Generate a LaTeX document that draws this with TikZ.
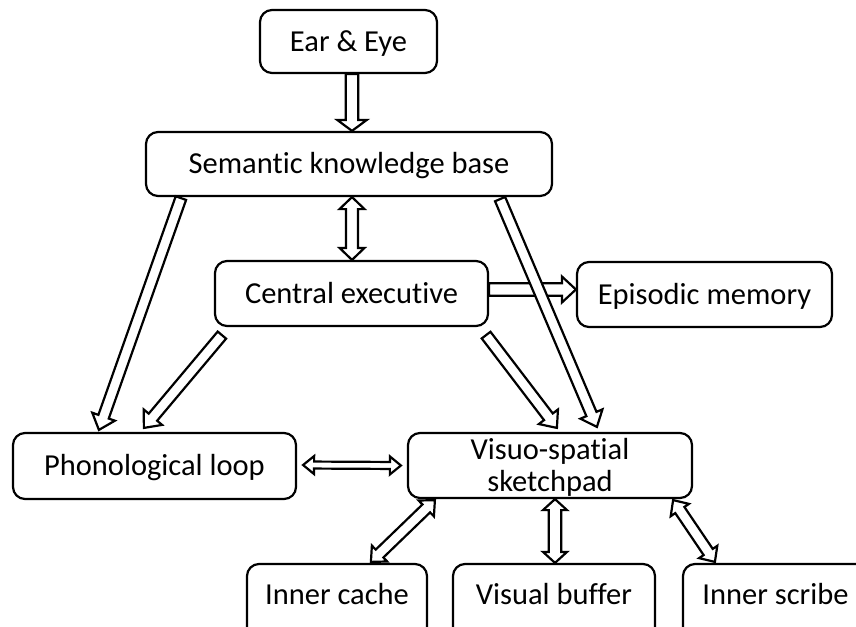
\documentclass[tikz,border=0pt]{standalone}
\usepackage{fontspec}
\setmainfont{Carlito}[RawFeature={-liga}]
\usetikzlibrary{calc}

% hollow block arrow with one head: #1 start, #2 tip, #3 shaft half width,
% #4 head half width, #5 head length
\newcommand\blockone[5]{%
  \coordinate (hb) at ($(#2)!#5!(#1)$);
  \draw[blk] ($(#1)!#3!90:(#2)$) -- ($(hb)!#3!-90:(#1)$) -- ($(hb)!#4!-90:(#1)$)
    -- (#2) -- ($(hb)!#4!90:(#1)$) -- ($(hb)!#3!90:(#1)$) -- ($(#1)!#3!-90:(#2)$) -- cycle;
}
% hollow block arrow with a head at both ends
\newcommand\blocktwo[5]{%
  \coordinate (ha) at ($(#1)!#5!(#2)$);
  \coordinate (hb) at ($(#2)!#5!(#1)$);
  \draw[blk] (#1) -- ($(ha)!#4!90:(#2)$) -- ($(ha)!#3!90:(#2)$) -- ($(hb)!#3!-90:(#1)$)
    -- ($(hb)!#4!-90:(#1)$) -- (#2) -- ($(hb)!#4!90:(#1)$) -- ($(hb)!#3!90:(#1)$)
    -- ($(ha)!#3!-90:(#2)$) -- ($(ha)!#4!-90:(#2)$) -- cycle;
}

\begin{document}
\begin{tikzpicture}[x=1pt,y=-1pt,
  box/.style={draw, line width=2.2pt, rounded corners=12pt, align=center,
    inner sep=0pt, font=\fontsize{30.5}{32}\selectfont,
    text height=19.6pt, text depth=0pt},
  lowbox/.style={box, text depth=15.6pt},
  blk/.style={draw, line width=2.2pt, fill=white, line join=miter}]
\useasboundingbox (0,0) rectangle (856,626);
\fill[white] (0,0) rectangle (856,626);
\begin{scope}
\clip (0,0) rectangle (856,626);

% boxes
\node[box, minimum width=177pt, minimum height=63pt] (ear) at (348.5,41.5) {Ear \& Eye};
\node[box, minimum width=406pt, minimum height=64pt] (sem) at (349,164) {Semantic knowledge base};
\node[box, minimum width=273pt, minimum height=65pt] (cen) at (351.5,293.5) {Central executive};
\node[box, minimum width=255pt, minimum height=65pt] (epi) at (704.5,294.5) {Episodic memory};
\node[box, minimum width=283pt, minimum height=66pt] (pho) at (154.5,466) {Phonological loop};
\node[box, minimum width=284pt, minimum height=65pt, text height=51.6pt] (vis) at (550,465.5)
  {Visuo-spatial\\sketchpad};
\node[lowbox, minimum width=180pt, minimum height=76pt] (cache) at (337,602) {Inner cache};
\node[lowbox, minimum width=202pt, minimum height=76pt] (buf) at (554,602) {Visual buffer};
\node[lowbox, minimum width=185pt, minimum height=76pt] (scribe) at (775.5,602) {Inner scribe};

% arrow end points
\coordinate (a1s) at ($(ear.south)+(3.5,0)$);
\coordinate (a1e) at ($(sem.north)+(3,0)$);
\coordinate (a2s) at ($(sem.south)+(3,0)$);
\coordinate (a2e) at ($(cen.north)+(0.5,0)$);
\coordinate (a3s) at ($(cen.east)+(0,-4)$);
\coordinate (a3e) at ($(epi.west)+(0,-5)$);
\coordinate (a4s) at ($(sem.south west)+(36,1)$);
\coordinate (a4e) at ($(pho.north west)+(87,-2)$);
\coordinate (a5s) at ($(cen.south west)+(8,8)$);
\coordinate (a5e) at ($(pho.north west)+(132,-4)$);
\coordinate (a6s) at ($(cen.south east)+(-3,8)$);
\coordinate (a6e) at ($(vis.north west)+(150,-4)$);
\coordinate (a7s) at ($(sem.south east)+(-53,2)$);
\coordinate (a7e) at ($(vis.north west)+(190,-5)$);
\coordinate (a8s) at ($(pho.east)+(6,-1)$);
\coordinate (a8e) at ($(vis.west)+(-6,0)$);
\coordinate (a9s) at ($(vis.south west)+(28,1)$);
\coordinate (a9e) at ($(cache.north west)+(125,-1)$);
\coordinate (a10s) at ($(vis.south)+(5,0)$);
\coordinate (a10e) at ($(buf.north)+(1,0)$);
\coordinate (a11s) at ($(vis.south east)+(-20,1)$);
\coordinate (a11e) at ($(scribe.north west)+(33,-1)$);

% connectors
\blockone{a1s}{a1e}{6.3pt}{14.8pt}{11pt}
\blocktwo{a2s}{a2e}{6pt}{12.5pt}{12pt}
\blockone{a3s}{a3e}{6.3pt}{13pt}{14pt}
\blockone{a4s}{a4e}{5.5pt}{12pt}{14pt}
\blockone{a5s}{a5e}{5.5pt}{12pt}{14pt}
\blockone{a6s}{a6e}{5.5pt}{12pt}{14pt}
\blockone{a7s}{a7e}{5.5pt}{12pt}{14pt}
\blocktwo{a8s}{a8e}{3.5pt}{9pt}{11pt}
\blocktwo{a9s}{a9e}{5.5pt}{11pt}{12pt}
\blocktwo{a10s}{a10e}{6.3pt}{12pt}{11pt}
\blocktwo{a11s}{a11e}{5.5pt}{11pt}{12pt}
\end{scope}
\end{tikzpicture}
\end{document}
